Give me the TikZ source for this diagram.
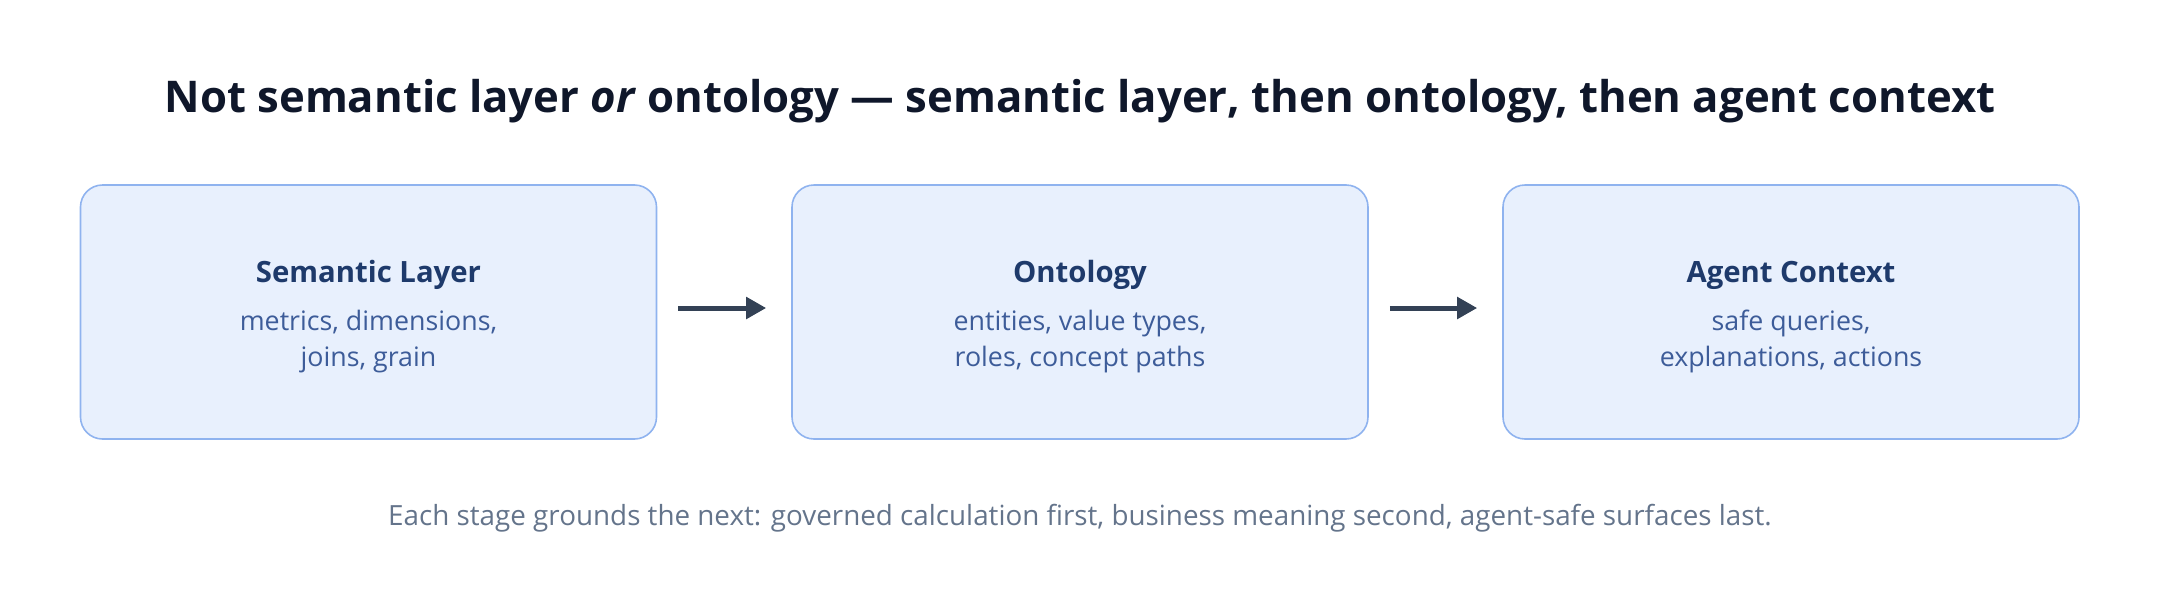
\documentclass[tikz,border=0pt]{standalone}
\usepackage{fontspec}
\setmainfont{Open Sans}
\usetikzlibrary{arrows.meta}
\definecolor{ink}{HTML}{0F172A}
\definecolor{headc}{HTML}{1E3A6B}
\definecolor{subc}{HTML}{3D5C99}
\definecolor{notec}{HTML}{64748B}
\definecolor{boxfill}{HTML}{E8F0FD}
\definecolor{boxline}{HTML}{8FB3EF}
\definecolor{arrowc}{HTML}{334155}

\begin{document}
\begin{tikzpicture}[x=1pt,y=-1pt,
  stage/.style={draw=boxline,fill=boxfill,line width=1.6pt,rounded corners=22pt,
    minimum width=576pt,minimum height=254pt},
  head/.style={anchor=base,text=headc,font=\bfseries\fontsize{29.3}{35}\selectfont},
  sub/.style={anchor=base,text=subc,font=\fontsize{26.8}{32}\selectfont},
  flow/.style={draw=arrowc,line width=5pt,-{Triangle[length=20pt,width=21pt]},
    shorten <=21pt,shorten >=25pt}]
  \useasboundingbox (0,0) rectangle (2160,592);
  \node[anchor=base,text=ink,font=\bfseries\fontsize{43.7}{52}\selectfont] (title) at (1080,112)
    {Not semantic layer \textit{or} ontology — semantic layer, then ontology, then agent context};
  \foreach \i/\x/\hd/\la/\lb in {1/368.5/Semantic Layer/{metrics, dimensions,}/{joins, grain},
      2/1080/Ontology/{entities, value types,}/{roles, concept paths},
      3/1791/Agent Context/{safe queries,}/{explanations, actions}}
  {
    \node[stage] (b\i) at (\x,312) {};
    \node[head] (h\i) at (\x,282) {\hd};
    \node[sub] (s\i a) at (\x,330) {\la};
    \node[sub] (s\i b) at (\x,366) {\lb};
  }
  \foreach \a/\b in {b1/b2,b2/b3}
    \draw[flow] ([yshift=4pt]\a.east) -- ([yshift=4pt]\b.west);
  \node[anchor=base,text=notec,font=\fontsize{27.8}{33}\selectfont] (note) at (1080,525)
    {Each stage grounds the next: governed calculation first, business meaning second, agent-safe surfaces last.};
\end{tikzpicture}
\end{document}
